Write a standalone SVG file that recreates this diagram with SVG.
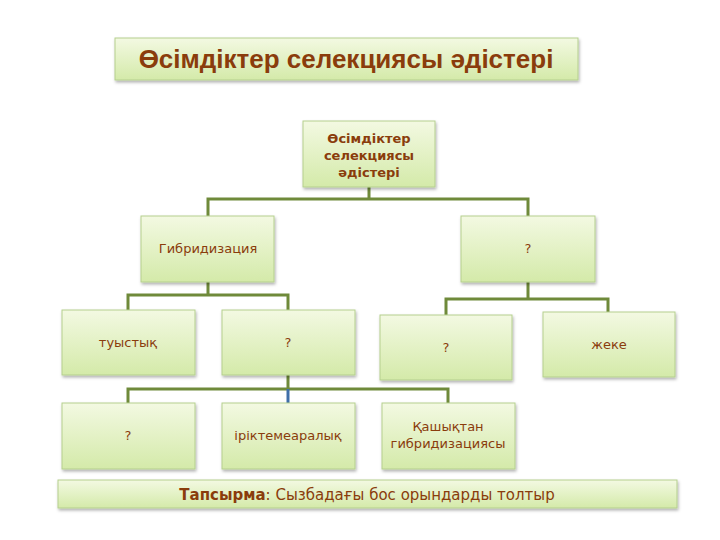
<svg xmlns="http://www.w3.org/2000/svg" width="720" height="540" viewBox="0 0 720 540">
<style>
.b{fill:url(#g);stroke:#b5cf8e;stroke-width:1;filter:url(#s)}
.t{font-family:"DejaVu Sans",sans-serif;font-size:13px;fill:#8a3c0c;text-anchor:middle}
.c{fill:none;stroke:#6f8a3a;stroke-width:3}
</style>
<defs>
<linearGradient id="g" x1="0" y1="0" x2="0" y2="1"><stop offset="0" stop-color="#f3f9e2"/><stop offset="1" stop-color="#d4eaa9"/></linearGradient>
<filter id="s" x="-10%" y="-10%" width="130%" height="140%"><feDropShadow dx="1" dy="2" stdDeviation="1.5" flood-color="#000" flood-opacity="0.3"/></filter>
</defs>
<rect width="720" height="540" fill="#fff"/>
<g id="title"><rect class="b" x="115" y="38" width="463" height="42"/><text x="346" y="68" font-family="Liberation Sans,Arial,sans-serif" font-weight="bold" font-size="26" fill="#8a3c0c" text-anchor="middle">Өсімдіктер селекциясы әдістері</text></g>
<g id="connectors">
<path class="c" d="M369 187V199M208 216V199H528V216"/>
<path class="c" d="M208 282V295M128 310V295H288V310"/>
<path class="c" d="M528 282V299M446 315V299H608V312"/>
<path class="c" d="M128 403V389H448V403M288 375V389"/>
<path d="M288 389V403" stroke="#3f6fa8" stroke-width="3"/>
</g>
<g id="root"><rect class="b" x="303" y="121" width="132" height="66"/><text class="t" font-weight="bold" x="369" y="143">Өсімдіктер</text><text class="t" font-weight="bold" x="369" y="160">селекциясы</text><text class="t" font-weight="bold" x="369" y="177">әдістері</text></g>
<g id="hybrid"><rect class="b" x="141" y="216" width="133" height="66"/><text class="t" x="208" y="253">Гибридизация</text></g>
<g id="q1"><rect class="b" x="461" y="216" width="134" height="66"/><text class="t" x="528" y="253">?</text></g>
<g id="tuys"><rect class="b" x="62" y="310" width="133" height="65"/><text class="t" x="128" y="347">туыстық</text></g>
<g id="q2"><rect class="b" x="222" y="310" width="133" height="65"/><text class="t" x="288" y="347">?</text></g>
<g id="q3"><rect class="b" x="380" y="315" width="132" height="65"/><text class="t" x="446" y="352">?</text></g>
<g id="zheke"><rect class="b" x="543" y="312" width="132" height="65"/><text class="t" x="609" y="349">жеке</text></g>
<g id="q4"><rect class="b" x="62" y="403" width="133" height="66"/><text class="t" x="128" y="440">?</text></g>
<g id="irik"><rect class="b" x="222" y="403" width="133" height="66"/><text class="t" x="288" y="440">іріктемеаралық</text></g>
<g id="qash"><rect class="b" x="382" y="403" width="133" height="66"/><text class="t" x="448" y="431">Қашықтан</text><text class="t" x="448" y="448">гибридизациясы</text></g>
<g id="task"><rect class="b" x="58" y="480" width="619" height="28"/><text x="367" y="500" font-family="DejaVu Sans,sans-serif" font-size="15" fill="#8a3c0c" text-anchor="middle"><tspan font-weight="bold">Тапсырма</tspan>: Сызбадағы бос орындарды толтыр</text></g>
</svg>
